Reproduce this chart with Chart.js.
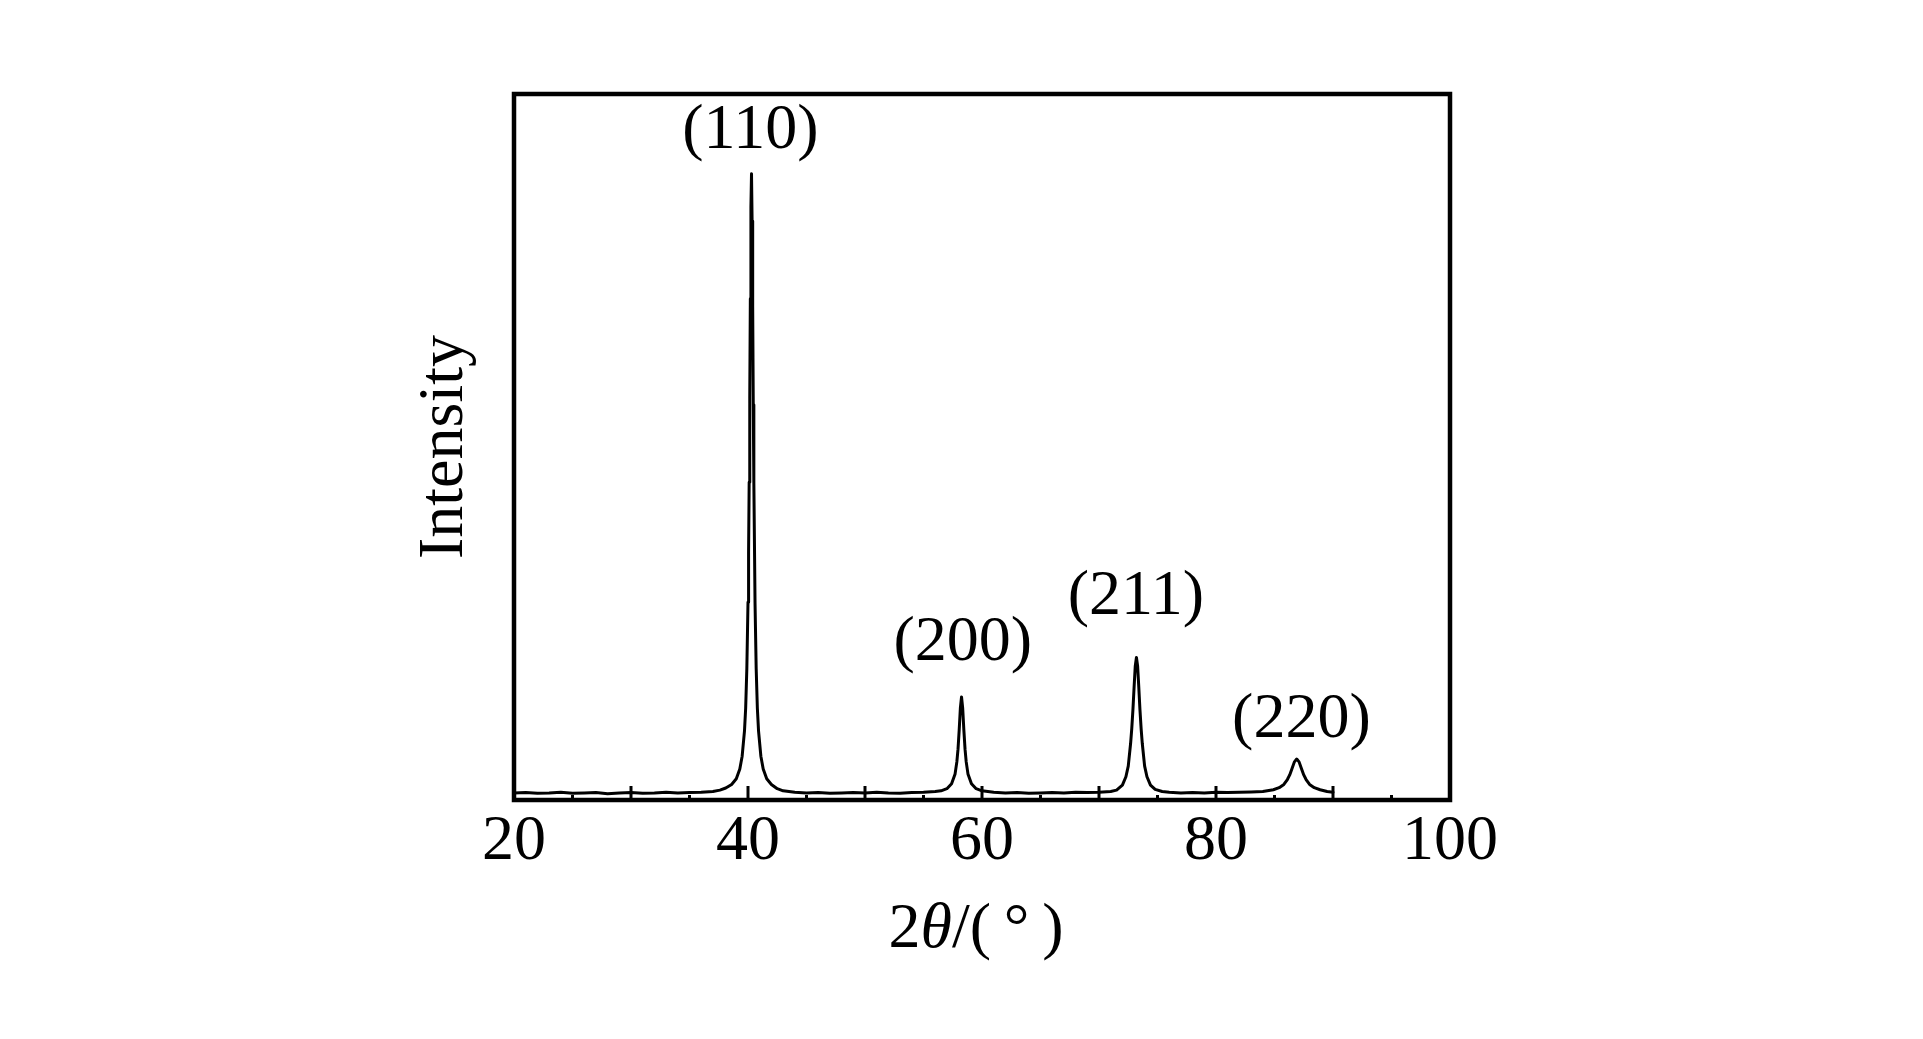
<!DOCTYPE html>
<html>
<head>
<meta charset="utf-8">
<script src="https://cdn.jsdelivr.net/npm/chart.js@4.4.1/dist/chart.umd.min.js"></script>
<style>
  html, body { margin: 0; padding: 0; background: #fff; }
  canvas { display: block; }
</style>
</head>
<body>
<canvas id="xrd" width="1923" height="1039"></canvas>
<script>
// XRD pattern
const twoTheta = [
    20, 21, 22, 23, 24, 25, 26, 27, 28, 29, 30, 31, 32, 33, 34, 35, 36, 37, 37.6,
    38.1, 38.6, 39.0, 39.3, 39.5, 39.7, 39.8, 39.9, 40.0, 40.05, 40.1, 40.15, 40.2, 40.25,
    40.3, 40.35, 40.4, 40.45, 40.5, 40.6, 40.7, 40.8, 40.9, 41.1, 41.3, 41.6, 42.0, 42.5, 43.0,
    44, 45, 46, 47, 48, 49, 50, 51, 52, 53, 54, 55, 56, 56.5,
    57.0, 57.4, 57.7, 57.85, 57.95, 58.05, 58.15, 58.25, 58.35, 58.45, 58.55, 58.65, 58.8, 59.1, 59.5, 60.0,
    61, 62, 63, 64, 65, 66, 67, 68, 69, 70, 71, 71.5,
    72.0, 72.3, 72.5, 72.7, 72.8, 72.9, 73.0, 73.1, 73.2, 73.3, 73.4, 73.5, 73.6, 73.7, 73.9, 74.1, 74.4, 74.8, 75.4,
    76, 77, 78, 79, 80, 81, 82, 83, 84,
    84.9, 85.4, 85.8, 86.1, 86.3, 86.5, 86.7, 86.9, 87.1, 87.3, 87.5, 87.7, 88.0, 88.4, 88.9, 89.5, 90
];
const intensity = [
    1.0, 1.05, 0.95, 1.0, 1.1, 0.95, 1.0, 1.05, 0.9, 1.0, 1.05, 0.95, 1.0, 1.1, 1.0, 1.05, 1.1, 1.2, 1.4,
    1.7, 2.2, 3.0, 4.4, 6.2, 9.8, 13, 18.6, 28, 35, 45, 57, 71, 84,
    88.7, 82, 70, 56, 45, 28, 18.6, 13, 9.8, 6.2, 4.4, 3.0, 2.2, 1.6, 1.3,
    1.1, 1.0, 1.05, 0.95, 1.0, 1.05, 1.0, 1.1, 1.0, 0.95, 1.05, 1.1, 1.2, 1.3,
    1.6, 2.3, 3.7, 5.4, 7.2, 9.9, 13.0, 14.6, 13.0, 9.9, 7.2, 5.4, 3.7, 2.3, 1.6, 1.3,
    1.1, 1.0, 1.05, 0.95, 1.0, 1.05, 1.0, 1.1, 1.05, 1.1, 1.2, 1.4,
    2.1, 3.3, 4.8, 8.0, 10.1, 12.8, 16.0, 19.0, 20.2, 19.0, 16.0, 12.8, 10.1, 8.0, 4.8, 3.3, 2.1, 1.5, 1.2,
    1.1, 1.0, 1.05, 1.0, 1.1, 1.05, 1.1, 1.15, 1.2,
    1.45, 1.75, 2.2, 2.9, 3.55, 4.45, 5.4, 5.8, 5.4, 4.45, 3.55, 2.9, 2.2, 1.75, 1.45, 1.2, 1.1
];

const peakNames  = ['(110)', '(200)', '(211)', '(220)'];
const peakLabelX = [40.2, 58.35, 73.15, 87.3];
const peakLabelY = [92.3, 19.8, 26.3, 8.9];

const xTickLabels = [20, 40, 60, 80, 100];

const FONT = '"Liberation Serif", "Times New Roman", serif';

const decor = {
    id: 'decor',
    afterDatasetsDraw(chart) {
        const { ctx, chartArea: a, scales: { x, y } } = chart;
        ctx.save();
        ctx.strokeStyle = '#000';
        ctx.fillStyle = '#000';

        // inward ticks on the bottom axis, long every 10, short every 5
        ctx.lineWidth = 3;
        x.ticks.forEach(t => {
            const px = x.getPixelForValue(t.value);
            const len = t.value % 10 === 0 ? 14 : 5;
            ctx.beginPath();
            ctx.moveTo(px, a.bottom);
            ctx.lineTo(px, a.bottom - len);
            ctx.stroke();
        });

        // frame
        ctx.lineWidth = 4.5;
        ctx.strokeRect(a.left, a.top, a.right - a.left, a.bottom - a.top);

        // peak labels
        ctx.font = '64px ' + FONT;
        ctx.textAlign = 'center';
        ctx.textBaseline = 'alphabetic';
        peakNames.forEach((name, i) => {
            ctx.fillText(name, x.getPixelForValue(peakLabelX[i]), y.getPixelForValue(peakLabelY[i]));
        });

        // x title: 2θ/(°) with italic theta
        const parts = [
            ['2', 'normal'], ['θ', 'italic'], ['/(', 'normal'], ['\u2009°\u2009', 'normal'], [')', 'normal']
        ];
        const widths = parts.map(([txt, st]) => {
            ctx.font = st + ' 64px ' + FONT;
            return ctx.measureText(txt).width;
        });
        const total = widths.reduce((s, w) => s + w, 0);
        let cx = (a.left + a.right) / 2 - 6 - total / 2;
        ctx.textAlign = 'left';
        parts.forEach(([txt, st], i) => {
            ctx.font = st + ' 64px ' + FONT;
            ctx.fillText(txt, cx, 947);
            cx += widths[i];
        });
        ctx.restore();
    }
};

new Chart(document.getElementById('xrd'), {
    type: 'line',
    data: {
        datasets: [{
            data: twoTheta.map((t, i) => ({ x: t, y: intensity[i] })),
            borderColor: '#000',
            borderWidth: 3,
            borderJoinStyle: 'round',
            borderCapStyle: 'round',
            pointRadius: 0,
            tension: 0,
            fill: false
        }]
    },
    options: {
        responsive: false,
        animation: false,
        events: [],
        layout: { padding: { left: 0, top: 94, right: 473, bottom: 0 } },
        plugins: { legend: { display: false }, tooltip: { enabled: false } },
        scales: {
            x: {
                type: 'linear',
                min: 20,
                max: 100,
                grid: { display: false, drawTicks: false },
                border: { display: false },
                ticks: {
                    stepSize: 5,
                    autoSkip: false,
                    maxRotation: 0,
                    padding: 10,
                    color: '#000',
                    font: { family: FONT, size: 64, lineHeight: 1 },
                    callback: v => xTickLabels.includes(v) ? String(v) : ''
                },
                afterFit: s => { s.height = 239; }
            },
            y: {
                min: 0,
                max: 100,
                grid: { display: false, drawTicks: false },
                border: { display: false },
                ticks: { display: false },
                title: {
                    display: true,
                    text: 'Intensity',
                    color: '#000',
                    font: { family: FONT, size: 64, lineHeight: 1 },
                    padding: { top: 413, bottom: 0 }
                },
                afterFit: s => { s.width = 514; }
            }
        }
    },
    plugins: [decor]
});
</script>
</body>
</html>
